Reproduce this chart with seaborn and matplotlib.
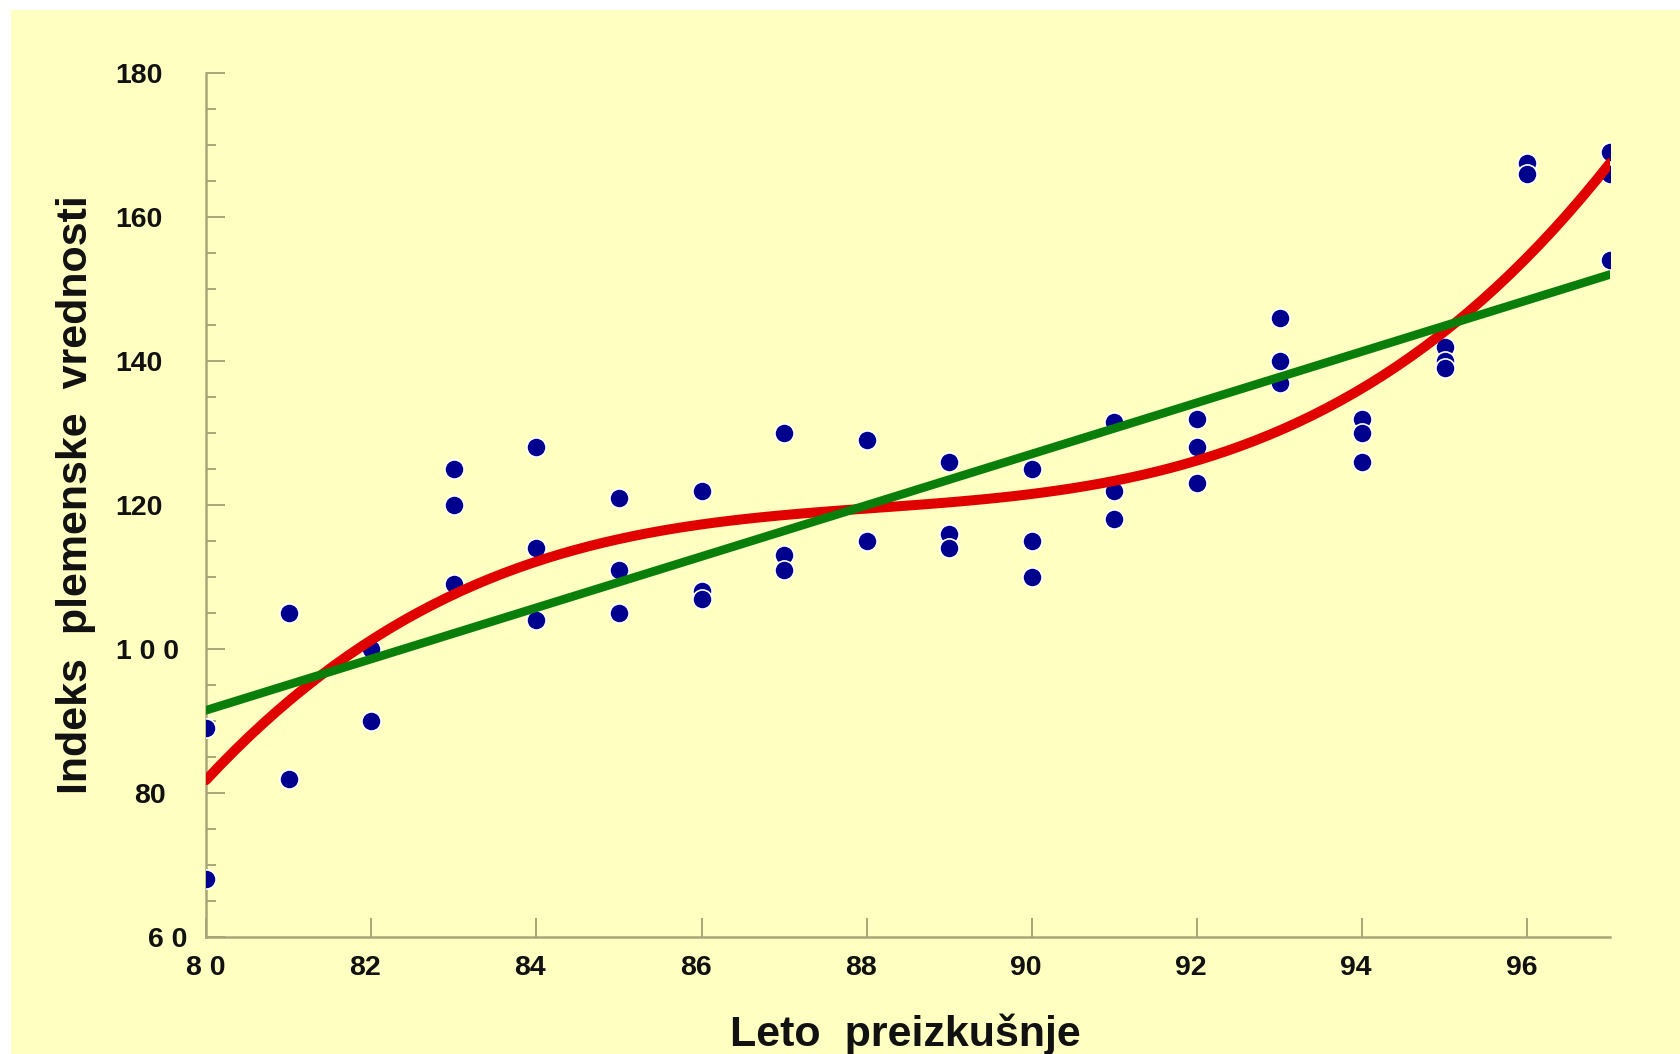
import numpy as np
import pandas as pd
import matplotlib
matplotlib.use("Agg")
import matplotlib.pyplot as plt
from matplotlib.patches import Rectangle
from matplotlib.ticker import MultipleLocator, FixedLocator
from matplotlib.transforms import ScaledTranslation
import seaborn as sns

# ---- data ----
years = [80, 80,
         81, 81,
         82, 82,
         83, 83, 83,
         84, 84, 84,
         85, 85, 85,
         86, 86, 86,
         87, 87, 87,
         88, 88,
         89, 89, 89,
         90, 90, 90,
         91, 91, 91,
         92, 92, 92,
         93, 93, 93,
         94, 94, 94,
         95, 95, 95,
         96, 96,
         97, 97, 97]
index_values = [89, 68,
                105, 82,
                100, 90,
                125, 120, 109,
                128, 114, 104,
                121, 111, 105,
                122, 108, 107,
                130, 113, 111,
                129, 115,
                126, 116, 114,
                125, 115, 110,
                131.5, 122, 118,
                132, 128, 123,
                146, 140, 137,
                132, 130, 126,
                142, 140, 139,
                167.5, 166,
                169, 166, 154]

x_ticks = [80, 82, 84, 86, 88, 90, 92, 94, 96]
x_tick_labels = ["8 0", "82", "84", "86", "88", "90", "92", "94", "96"]
y_ticks = [60, 80, 100, 120, 140, 160, 180]
y_tick_labels = ["6 0", "80", "1 0 0", "120", "140", "160", "180"]

x_label = "Leto  preizkušnje"
y_label = "Indeks  plemenske  vrednosti"

df = pd.DataFrame({"leto": years, "indeks": index_values})

# ---- style ----
BG = "#FFFFC2"
AXC = "#A8A678"
sns.set_theme(style="white")
plt.rcParams["font.family"] = ["Liberation Sans", "DejaVu Sans"]

fig = plt.figure(figsize=(16.8, 10.54), dpi=100)
fig.patch.set_facecolor("white")
fig.patches.append(Rectangle((11 / 1680, 0), 1, 1 - 10 / 1054,
                             transform=fig.transFigure, facecolor=BG,
                             edgecolor="none", zorder=-10))
ax = fig.add_axes([206 / 1680, 1 - 937 / 1054, 1404 / 1680, 864 / 1054])
ax.set_facecolor(BG)
ax.patch.set_alpha(0)

sns.scatterplot(data=df, x="leto", y="indeks", ax=ax, color="#00008E",
                s=190, edgecolor="white", linewidth=1.2, zorder=3)
sns.regplot(data=df, x="leto", y="indeks", ax=ax, order=3, ci=None,
            scatter=False, color="#E00000", line_kws=dict(lw=7.2, zorder=4))
sns.regplot(data=df, x="leto", y="indeks", ax=ax, order=1, ci=None,
            scatter=False, color="#0A7E0A", line_kws=dict(lw=6.2, zorder=5))

ax.set_xlim(80, 97)
ax.set_ylim(60, 180)

for side in ["top", "right"]:
    ax.spines[side].set_visible(False)
for side in ["left", "bottom"]:
    ax.spines[side].set_color(AXC)
    ax.spines[side].set_linewidth(1.8)

ax.xaxis.set_major_locator(FixedLocator(x_ticks))
ax.set_xticklabels(x_tick_labels)
ax.yaxis.set_major_locator(FixedLocator(y_ticks))
ax.set_yticklabels(y_tick_labels)
ax.yaxis.set_minor_locator(MultipleLocator(5))

ax.tick_params(axis="y", which="major", direction="in", length=13.5, width=1.4,
               color=AXC, pad=31, labelsize=20.5, left=True)
ax.tick_params(axis="y", which="minor", direction="in", length=7, width=1.4,
               color=AXC, left=True)
ax.tick_params(axis="x", which="major", direction="in", length=14, width=1.4,
               color=AXC, pad=13, labelsize=20.5, bottom=True)
for lab in ax.get_xticklabels() + ax.get_yticklabels():
    lab.set_fontweight("bold")
    lab.set_color("#111111")

# small per-label shifts (pixels) seen in the reference layout
y_shift = {"6 0": 24, "80": 3, "1 0 0": 16}
for lab in ax.get_yticklabels():
    dx = y_shift.get(lab.get_text(), 0)
    if dx:
        lab.set_transform(lab.get_transform() +
                          ScaledTranslation(dx / 100, 0, fig.dpi_scale_trans))
for lab in ax.get_xticklabels():
    if lab.get_text() != "8 0":
        lab.set_transform(lab.get_transform() +
                          ScaledTranslation(-6 / 100, 0, fig.dpi_scale_trans))

ax.set_xlabel(x_label, fontsize=31, fontweight="bold", color="#111111")
ax.set_ylabel(y_label, fontsize=31, fontweight="bold", color="#111111",
              va="center")
ax.xaxis.set_label_coords(0.498, -0.113)
ax.yaxis.set_label_coords(-0.0925, 0.512)
ax.xaxis.label.set_va("center")

fig.savefig("out.png", dpi=100, facecolor=fig.get_facecolor())
